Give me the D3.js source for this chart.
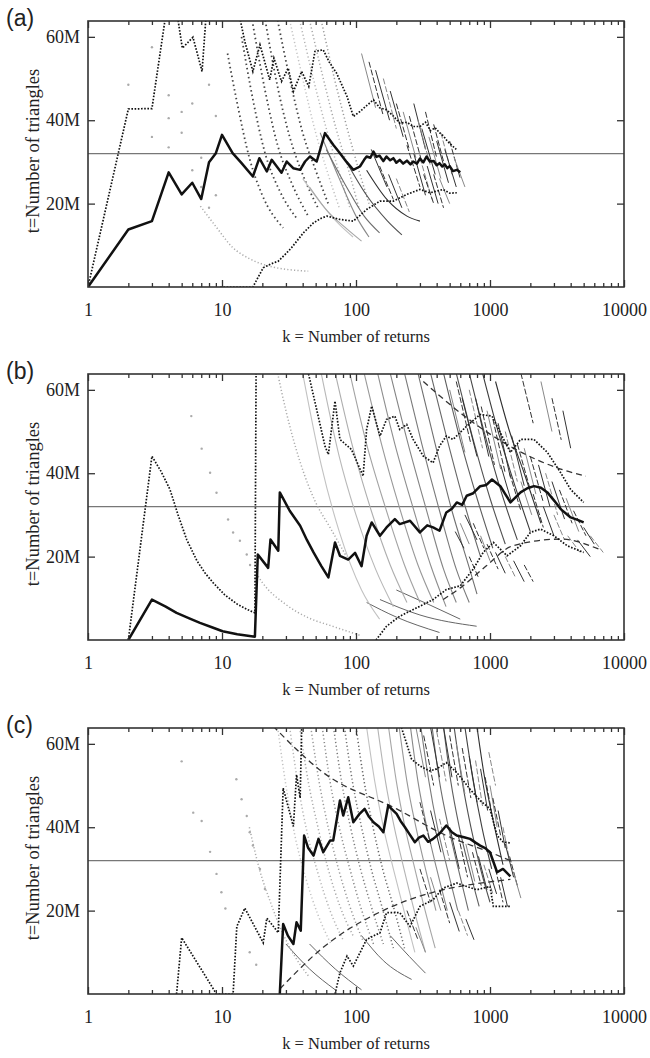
<!DOCTYPE html>
<html>
<head>
<meta charset="utf-8">
<script src="https://cdn.jsdelivr.net/npm/d3@7"></script>
<style>
  body { margin: 0; background: #fff; }
  svg { display: block; }
</style>
</head>
<body>
<div id="chart"></div>
<script>
// Three panels: t (number of triangles, millions) against k (number of returns), log x

var panelNames = ["(a)", "(b)", "(c)"];
var xTicks = [1, 10, 100, 1000, 10000];
var yTicks = [20, 40, 60];
var trueValue = 32;

// ---- panel (a) ----
var estA = [[1,0],[2,13.8],[3,15.8],[4,27.5],[5,22.2],[6,25],[7,21.1],[8,29.9],[9,32.1],[10,36.5],[12,32.1],[14,29.7],[17,26.5],[19,30.9],[21.6,27.7],[23.5,30.5],[27.8,27.4],[30.4,30.1],[34,28.5],[38.3,28.1],[41.7,30.1],[45.3,31.3],[50.9,30.1],[58.7,36.9],[67.6,34.1],[75.9,32.1],[85,30],[95.5,28.1],[107,28.9],[115,30.5],[120,31.3],[128,31],[135,32.5],[142,31.2],[150,31.5],[160,30.2],[169,31.3],[180,30.4],[190,30.9],[200,29.8],[212,30.5],[225,29.6],[240,30.3],[255,29.4],[267,30.1],[285,29.6],[300,30.8],[318,29.9],[336,31.3],[356,30.1],[380,30.2],[400,29.2],[420,29.7],[440,28.9],[460,29.4],[480,28.5],[500,29],[530,27.8],[565,28.1],[600,27.5]];
var upA = [[1,0],[2,42.7],[3,42.8],[4,70],[4.4,70],[5.06,57.3],[6.07,59.9],[7.1,51.7],[7.8,70],[12.5,70],[14.8,58.9],[17,51.7],[19.2,58.1],[22.7,49.7],[24.4,54.9],[27.8,49.3],[31.2,52.5],[34.1,46.9],[39.3,51.7],[44.4,48.1],[49.4,56.5],[56.9,56.9],[63,54],[71.6,51.3],[85.7,45.7],[95.5,40.9],[107,42.1],[120,43.5],[135,44.9],[150,43],[169,42.5],[190,41],[212,39.3],[240,39.5],[267,38.5],[300,38.5],[330,39.5],[360,37.5],[390,38.2],[420,37],[450,36.2],[480,35],[530,33.7],[560,33]];
var lowA = [[9.7,0],[17,0],[20.3,4.6],[23,5.5],[26.3,6.2],[30,8],[33,9.4],[40.5,13],[48.2,15.4],[55,16.5],[60.6,17],[75.9,16.2],[95.5,15.8],[110,17.5],[120,18.6],[151,20.6],[190,20.6],[239,22.2],[300,23.4],[356,22.6],[400,23],[447,23.4],[500,22.5],[565,22.6]];
var dashA = [];
var sparseA = [[2,48.5],[3,57.5],[3,36],[4,40.5],[4,46],[4,33.5],[5,42],[5,37],[6,28],[6,44],[7,24],[7,31],[8,19],[8,48.5],[9,41],[9,22]];
var lightDotA = [
  [[6.9,19.4],[9,14.5],[12,9.5],[16,6.8],[24,4.8],[44,3.8]]
];
var darkDotA = [
  [[11,56],[13,44],[16,31],[20,22],[28.6,14.2]],
  [[14,60],[17,45],[21,32],[27,23],[36,16.5]],
  [[17,63],[21,47],[26,34],[33,25],[44,17]],
  [[21,64],[26,48],[32,36],[40,27],[52,19]],
  [[26,64],[32,50],[40,37],[50,28],[62,20]]
];
var grayDotA = [
  [[32,64],[40,50],[50,37],[62,27],[75,19]],
  [[38,64],[48,50],[60,38],[74,28],[90,19]],
  [[45,64],[57,50],[71,38],[88,28],[105,19]],
  [[55,64],[69,50],[86,38],[105,28],[125,20]]
];
var arcsA = [
  [[40,26],[55,20],[75,15],[95,12]],
  [[45,24],[62,18],[85,14],[110,11]],
  [[54,37],[75,26],[100,17],[125,12]],
  [[60,33],[85,24],[115,17],[150,13]],
  [[85,30],[120,22],[170,16],[220,12.5]],
  [[120,28],[170,21],[240,17],[300,15.8]]
];
var lowArcsA = [];
var segsA = [[110,56,140,43],[125,54,160,41],[140,52,178,40],[160,50,200,38],[180,47,225,36],[200,44,250,33],[225,42,280,31],[250,41,310,30],[270,44,330,33],[290,40,360,29],[310,38,390,27],[330,42,400,31],[350,36,430,26],[380,39,460,29],[400,35,490,25],[430,37,520,27],[460,33,560,24],[500,35,600,26],[540,31,650,24],[240,34,300,24],[270,32,330,22],[300,31,370,21],[340,29,410,20],[380,27,450,19],[420,26,500,20],[150,29,190,21],[175,27,220,19],[200,26,250,18],[130,33,170,24],[320,27,380,20]];

// ---- panel (b) ----
var estB = [[2,0],[3,9.7],[3.8,8],[4.58,6.5],[5.7,5.2],[6.85,4.1],[8.5,3],[10.1,2.1],[13,1.4],[17.6,0.8],[18.5,20.5],[22.1,17.3],[23,24.1],[26.3,21.4],[27,35.4],[32,31],[38.3,27.4],[43,24],[48.2,21],[55,17.8],[62.2,15],[69.7,23.4],[75.9,20.2],[87.5,19.3],[98.4,20.9],[110,17.7],[120,25],[131,28.2],[151,25],[169,27],[195,29],[212,27.8],[253,28.6],[300,25.8],[340,27.5],[376,27],[420,26.2],[472,30.6],[520,31.5],[565,33],[620,32.4],[670,34.6],[750,35.2],[845,36.9],[940,37.2],[1035,38.5],[1195,36.9],[1300,35],[1420,33],[1550,34.2],[1690,35.4],[1900,36.4],[2130,36.9],[2400,36.5],[2680,35.4],[3000,33.5],[3370,31.4],[4000,29.4],[4500,28.8],[5000,28.2]];
var upB = [[2,0],[3,44.1],[3.5,40.5],[4.09,36.1],[4.7,30],[5.45,24.1],[6.5,19],[7.5,16],[8.6,13.7],[10.5,10.8],[13,8.6],[15.5,7.3],[17.6,6.5],[18,70],[40,70],[44.1,64],[58.7,46.5],[62.2,44.5],[69.7,57.3],[75.9,48.1],[92.5,45.7],[113,39.3],[120,50.5],[131,56.1],[151,48.9],[169,52.9],[195,53.7],[212,50.5],[239,51.7],[267,48.1],[318,44.1],[376,42.5],[420,46.5],[472,48.9],[530,48.1],[670,51.3],[845,54.1],[1035,53.7],[1195,49.7],[1420,45],[1690,48.1],[2130,48.1],[2680,45],[3370,40.1],[4000,36.1],[5000,33]];
var lowB = [[141,0],[169,3.3],[212,5.7],[300,8.1],[376,9.7],[472,12.1],[600,13],[750,17],[890,21],[1060,23.4],[1340,20.2],[1690,22.6],[2000,25.8],[2380,26.6],[3000,25],[3770,22.6],[5000,21]];
var dashB = [
  [[318,62],[670,53.3],[1500,46],[3370,41],[5200,39.3]],
  [[447,9.7],[600,12.5],[940,17.8],[1480,22.6],[3370,24.2],[6600,21.7]]
];
var sparseB = [[5.9,53.7],[7.05,45.9],[8.15,40.1],[9.1,35.3],[11.1,28.9],[12.1,25.8],[13.6,23.8],[15.3,20.5],[16.2,18]];
var lightDotB = [
  [[18,16],[20,13.8],[30,8.5],[45,5.2],[64,3.5],[110,1]],
  [[26,64],[30,55],[38,43],[50,33],[64,27],[85,20]]
];
var darkDotB = [];
var grayDotB = [];
var arcsB = [
  [[40,64],[55,42],[75,26],[110,12],[150,5]],
  [[55,64],[75,44],[100,30],[140,17],[190,8]],
  [[70,64],[95,46],[130,31],[180,18],[240,9]],
  [[90,64],[120,47],[165,32],[230,18],[300,9]],
  [[115,64],[155,47],[210,32],[290,18],[380,9]],
  [[145,64],[195,47],[265,32],[360,18],[470,8]],
  [[180,64],[245,47],[330,32],[450,17],[560,9]],
  [[230,64],[310,47],[420,31],[560,17],[700,9]],
  [[290,64],[390,47],[520,31],[690,18],[800,11]],
  [[360,64],[480,48],[640,33],[850,20]],
  [[450,64],[600,48],[800,34],[1050,22]],
  [[560,64],[750,48],[1000,34],[1300,23]],
  [[700,64],[920,49],[1200,36],[1600,24]],
  [[880,64],[1150,50],[1500,38],[2000,26]],
  [[1100,62],[1400,50],[1800,40],[2400,28]]
];
var lowArcsB = [
  [[120,9],[200,5.5],[420,1.8]],
  [[151,9.7],[300,6],[795,3.3]],
  [[200,12],[350,8.5],[600,5]]
];
var segsB = [[500,60,650,45],[560,62,720,47],[620,58,800,44],[700,60,880,46],[780,58,980,44],[860,56,1080,42],[950,55,1200,41],[1050,53,1300,40],[1150,52,1420,39],[1300,50,1600,38],[1450,49,1800,37],[1600,47,2000,36],[1800,46,2200,35],[2000,44,2500,33],[2300,42,2800,32],[2600,40,3200,30],[2900,38,3600,29],[3300,36,4100,28],[3700,34,4600,26],[4200,31,5200,25],[5000,27,6000,23],[5600,25,7000,21],[1200,42,1450,33],[1400,40,1700,31],[1700,38,2050,30],[2100,35,2500,27],[2500,32,3000,25],[3000,30,3600,24],[650,30,800,24],[750,28,900,22],[850,25,1000,19],[950,23,1150,17],[1100,21,1300,16],[1300,20,1550,15],[1500,19,1800,14],[1800,18,2100,14],[600,28,700,23],[700,20,820,15],[550,26,640,22],[3800,25,4700,21],[4500,24,5600,20],[1700,64,2100,52],[2400,62,2900,50],[2900,58,3400,48],[3500,55,4000,46]];

// ---- panel (c) ----
var estC = [[27,0],[28.6,16.8],[31,14],[34.1,12],[36,17.2],[38.7,15.2],[41,38],[44,35],[48.2,33.2],[52.5,37.2],[57,34],[64,36.8],[67.6,36.8],[75.9,46.4],[80.3,42.8],[87.5,47.2],[95.5,41.2],[105,43],[116,44.4],[125,42.5],[135,41.2],[148,40.2],[160,38.8],[174,45.2],[201,43.2],[215,41.5],[232,40],[250,38.4],[275,36.4],[295,37.5],[318,38],[345,36.5],[376,37.2],[420,38.5],[472,40.4],[520,38.8],[565,38],[640,37.6],[710,37.2],[780,36.3],[845,35.6],[920,35],[1000,34],[1130,29.2],[1250,30],[1420,28.2]];
var upC = [[4.58,0],[5,13.5],[9.1,0],[12.1,0],[12.9,16.2],[14.8,20.6],[20.3,12.3],[21.6,18.2],[26.3,14.7],[28.6,49.4],[34.1,40.2],[36,52.6],[38.3,47],[39.3,63.4],[40,70],[210,70],[218,64],[260,56.3],[300,54.7],[355,53.5],[400,54],[472,55.5],[565,53.1],[710,49.1],[845,46.4],[1000,44.4],[1130,38],[1250,36.5],[1420,36.2]];
var lowC = [[69.7,0],[75.9,5.1],[85.7,9.1],[95.5,6.7],[120,13.1],[151,14.7],[169,19.5],[212,19.5],[253,16.2],[300,21],[376,22.6],[447,25.4],[565,26.6],[795,25],[1000,25.8],[1060,21],[1420,21]];
var dashC = [
  [[24,64.3],[57,53.1],[201,44.4],[472,38],[1000,34],[1420,32]],
  [[27,1.2],[57,11.2],[169,20.4],[376,24.4],[945,26.8],[1420,27.5]]
];
var sparseC = [[5,55.8],[6.1,43.5],[7.05,41.5],[8.15,34.1],[9.1,28.8],[9.9,24.4],[10.6,20.5],[12.8,51.5],[14,46.7],[15.3,42.7],[16.1,38.8],[17,35.6],[19.2,30],[20.9,25.2],[16.1,10],[18,7]];
var lightDotC = [
  [[16,40],[19,30],[23,22],[28,15],[35,9],[45,4]]
];
var darkDotC = [];
var grayDotC = [
  [[26,64],[30,50],[35,38],[42,28],[52,19],[65,12]],
  [[32,64],[37,50],[43,39],[52,29],[64,20],[80,13]],
  [[38,64],[44,51],[52,40],[62,30],[76,21],[95,14]],
  [[46,64],[53,51],[62,40],[74,30],[90,21],[112,13]],
  [[56,64],[64,51],[75,40],[90,30],[108,21],[135,12]],
  [[68,64],[78,51],[91,40],[108,30],[130,21],[160,12]],
  [[82,64],[94,51],[110,40],[130,30],[156,21],[190,11]],
  [[100,64],[115,51],[134,40],[158,30],[190,21],[230,11]]
];
var arcsC = [
  [[120,64],[138,51],[160,40],[190,30],[228,20],[275,10]],
  [[145,64],[166,51],[193,40],[228,30],[272,20],[330,10]],
  [[175,64],[200,51],[232,40],[275,30],[328,20],[390,11]],
  [[210,64],[240,51],[280,40],[330,30],[395,20]],
  [[255,64],[290,51],[338,40],[400,30],[480,20]],
  [[305,64],[350,51],[405,40],[480,30],[575,20]],
  [[370,64],[420,51],[490,40],[580,30],[690,20]],
  [[450,64],[510,51],[590,40],[700,30],[830,21]],
  [[540,64],[620,51],[720,40],[850,30],[1000,22]],
  [[650,64],[750,51],[870,40],[1030,30]],
  [[800,64],[910,52],[1050,42],[1250,31]]
];
var lowArcsC = [
  [[30,12],[45,6],[70,1]],
  [[45,12],[70,6],[110,1]],
  [[110,14],[160,8],[260,3.5]],
  [[180,14],[250,9],[330,5]]
];
var segsC = [[280,64,330,52],[320,62,380,50],[360,64,420,52],[400,63,470,51],[450,64,520,52],[500,62,580,50],[560,60,650,48],[620,59,720,47],[700,57,800,46],[780,56,880,45],[850,54,960,44],[920,52,1050,42],[1000,50,1130,40],[1050,47,1200,38],[1150,44,1300,35],[1250,40,1400,32],[1300,36,1500,28],[1400,33,1600,26],[1500,29,1700,23],[300,46,360,36],[360,44,430,34],[420,42,500,32],[500,40,590,30],[580,38,680,28],[660,36,770,27],[740,34,860,26],[820,33,950,25],[900,31,1050,24],[980,30,1120,24],[300,30,360,22],[360,28,430,20],[420,25,500,17],[500,22,590,15],[580,20,680,14],[660,18,760,13],[240,20,290,13],[280,16,330,10],[1100,30,1250,22],[1200,28,1350,21],[980,58,1100,50]];

var panels = [
  {est: estA, up: upA, low: lowA, dash: dashA, sparse: sparseA, lightDot: lightDotA, darkDot: darkDotA, grayDot: grayDotA, arcs: arcsA, lowArcs: lowArcsA, segs: segsA},
  {est: estB, up: upB, low: lowB, dash: dashB, sparse: sparseB, lightDot: lightDotB, darkDot: darkDotB, grayDot: grayDotB, arcs: arcsB, lowArcs: lowArcsB, segs: segsB},
  {est: estC, up: upC, low: lowC, dash: dashC, sparse: sparseC, lightDot: lightDotC, darkDot: darkDotC, grayDot: grayDotC, arcs: arcsC, lowArcs: lowArcsC, segs: segsC}
];

var width = 650, height = 1058;
var left = 88, right = 624, plotH = 266;
var tops = [21, 374, 728];
var serif = '"Liberation Serif", "Times New Roman", serif';

var svg = d3.select("#chart").append("svg")
  .attr("width", width)
  .attr("height", height);

var x = d3.scaleLog().domain([1, 10000]).range([left, right]);
var minor = [];
for (var dec = 1; dec < 10000; dec *= 10)
  for (var m = 2; m < 10; m++) minor.push(dec * m);

panels.forEach(function(p, i) {
  var top = tops[i], bottom = top + plotH;
  var y = d3.scaleLinear().domain([0, 63.8]).range([bottom, top]);
  var g = svg.append("g");

  var clipId = "clip" + i;
  svg.append("clipPath").attr("id", clipId)
    .append("rect").attr("x", left).attr("y", top)
    .attr("width", right - left).attr("height", plotH);

  var plot = g.append("g").attr("clip-path", "url(#" + clipId + ")");

  var lin = d3.line().x(function(d) { return x(d[0]); }).y(function(d) { return y(d[1]); });
  var smooth = d3.line().x(function(d) { return x(d[0]); }).y(function(d) { return y(d[1]); })
    .curve(d3.curveMonotoneX);

  // true value
  plot.append("line")
    .attr("x1", left).attr("x2", right)
    .attr("y1", y(trueValue)).attr("y2", y(trueValue))
    .attr("stroke", "#777").attr("stroke-width", 1.3);

  // sparse early dots
  plot.selectAll(".sp").data(p.sparse).enter().append("circle")
    .attr("cx", function(d) { return x(d[0]); })
    .attr("cy", function(d) { return y(d[1]); })
    .attr("r", 1.2).attr("fill", "#aaa");

  // lower arcs near the bottom
  plot.selectAll(".la").data(p.lowArcs).enter().append("path")
    .attr("d", smooth).attr("fill", "none")
    .attr("stroke", "#666").attr("stroke-width", 1);

  // light dotted arcs
  plot.selectAll(".ld").data(p.lightDot).enter().append("path")
    .attr("d", smooth).attr("fill", "none")
    .attr("stroke", "#aaa").attr("stroke-width", 1.5)
    .attr("stroke-dasharray", "1.2,2.2");

  // gray dotted arcs
  plot.selectAll(".gd").data(p.grayDot).enter().append("path")
    .attr("d", smooth).attr("fill", "none")
    .attr("stroke", function(d, j) { return d3.interpolateGreys(0.35 + 0.05 * j); })
    .attr("stroke-width", 1.5)
    .attr("stroke-dasharray", "1.2,2.5");

  // dark dotted arcs
  plot.selectAll(".dd").data(p.darkDot).enter().append("path")
    .attr("d", smooth).attr("fill", "none")
    .attr("stroke", "#444").attr("stroke-width", 1.8)
    .attr("stroke-dasharray", "1.5,3");

  // solid arcs, darker to the right
  var nA = p.arcs.length;
  plot.selectAll(".ar").data(p.arcs).enter().append("path")
    .attr("d", smooth).attr("fill", "none")
    .attr("stroke", function(d, j) { return d3.interpolateGreys(0.35 + 0.5 * j / Math.max(1, nA - 1)); })
    .attr("stroke-width", 1.1);

  // short dense segments
  plot.selectAll(".sg").data(p.segs).enter().append("line")
    .attr("x1", function(d) { return x(d[0]); })
    .attr("y1", function(d) { return y(d[1]); })
    .attr("x2", function(d) { return x(d[2]); })
    .attr("y2", function(d) { return y(d[3]); })
    .attr("stroke", function(d, j) { return j % 3 === 0 ? "#888" : "#333"; })
    .attr("stroke-width", 1)
    .attr("stroke-dasharray", function(d, j) { return j % 2 ? "6,2" : null; });

  // dashed bound lines
  plot.selectAll(".ds").data(p.dash).enter().append("path")
    .attr("d", smooth).attr("fill", "none")
    .attr("stroke", "#333").attr("stroke-width", 1.3)
    .attr("stroke-dasharray", "6,4");

  // dotted bounds
  [p.up, p.low].forEach(function(s) {
    plot.append("path").datum(s)
      .attr("d", lin).attr("fill", "none")
      .attr("stroke", "#111").attr("stroke-width", 1.7)
      .attr("stroke-dasharray", "1.6,1.6");
  });

  // estimate
  plot.append("path").datum(p.est)
    .attr("d", lin).attr("fill", "none")
    .attr("stroke", "#111").attr("stroke-width", 2.5)
    .attr("stroke-linejoin", "round");

  // axes with inward ticks
  var fmtK = function(d) { return String(d); };
  g.append("g").attr("transform", "translate(0," + bottom + ")")
    .call(d3.axisBottom(x).tickValues(xTicks).tickFormat(fmtK).tickSize(-7).tickPadding(16));
  g.append("g").attr("transform", "translate(0," + bottom + ")")
    .call(d3.axisBottom(x).tickValues(minor).tickFormat("").tickSize(-4));
  g.append("g").attr("transform", "translate(0," + top + ")")
    .call(d3.axisTop(x).tickValues(xTicks).tickFormat("").tickSize(-7));
  g.append("g").attr("transform", "translate(0," + top + ")")
    .call(d3.axisTop(x).tickValues(minor).tickFormat("").tickSize(-4));
  g.append("g").attr("transform", "translate(" + left + ",0)")
    .call(d3.axisLeft(y).tickValues(yTicks).tickFormat(function(d) { return d + "M"; }).tickSize(-7).tickPadding(8));
  g.append("g").attr("transform", "translate(" + right + ",0)")
    .call(d3.axisRight(y).tickValues(yTicks).tickFormat("").tickSize(-7));
  g.selectAll(".domain").remove();
  g.selectAll(".tick line").attr("stroke", "#333").attr("stroke-width", 1.3);
  g.selectAll(".tick text")
    .attr("font-family", null).attr("font-size", null)
    .style("font-family", serif).style("font-size", "18px").attr("fill", "#222");

  // frame
  g.append("rect")
    .attr("x", left).attr("y", top)
    .attr("width", right - left).attr("height", plotH)
    .attr("fill", "none").attr("stroke", "#333").attr("stroke-width", 1.6);

  // titles
  g.append("text")
    .attr("x", 356).attr("y", bottom + 55)
    .attr("text-anchor", "middle")
    .style("font-family", serif).style("font-size", "16.5px").attr("fill", "#222")
    .text("k = Number of returns");
  g.append("text")
    .attr("transform", "translate(39," + (top + plotH / 2 - 3) + ") rotate(-90)")
    .attr("text-anchor", "middle")
    .style("font-family", serif).style("font-size", "18.5px").attr("fill", "#222")
    .text("t=Number of triangles");
  g.append("text")
    .attr("x", 6).attr("y", top + 5)
    .style("font-family", '"Liberation Sans", Arial, sans-serif').style("font-size", "23px").attr("fill", "#222")
    .text(panelNames[i]);
});
</script>
</body>
</html>
